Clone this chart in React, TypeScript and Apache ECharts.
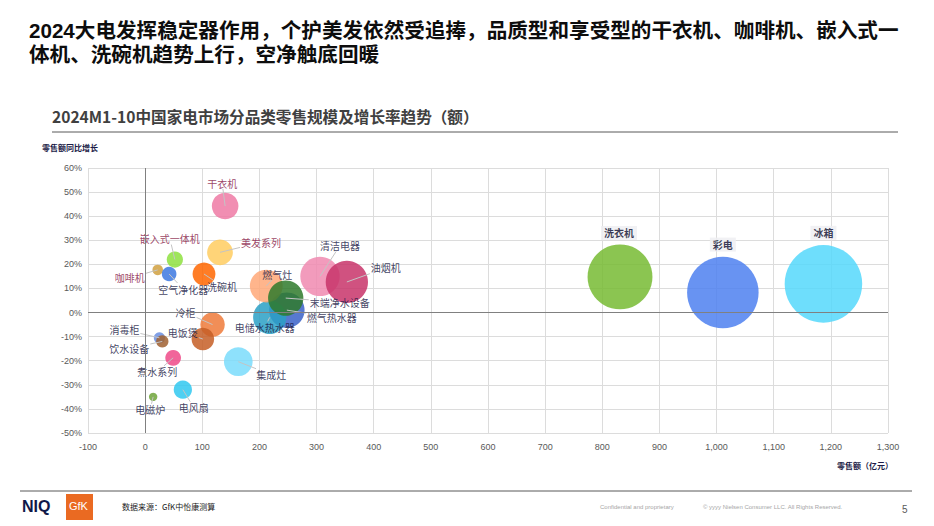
import React, { useEffect, useRef } from "react";
import * as echarts from "echarts";

const categories = [
  "清洁电器", "油烟机", "燃气热水器", "电储水热水器", "燃气灶", "末端净水设备",
  "干衣机", "美发系列", "嵌入式一体机", "咖啡机", "空气净化器", "洗碗机",
  "冷柜", "电饭煲", "消毒柜", "饮水设备", "煮水系列", "集成灶", "电风扇", "电磁炉",
  "洗衣机", "彩电", "冰箱",
];
const retailScale = [
  306, 353, 248, 218, 212, 246,
  140, 131, 52, 22, 42, 103,
  118, 101, 25, 30, 49, 163, 66, 14,
  831, 1011, 1187,
];
const growthRate = [
  15, 12.7, 1, -2, 11, 6,
  44.2, 25, 22, 17.7, 16, 16,
  -5, -11, -10.5, -12, -18.8, -20.4, -32, -35,
  14.8, 8.3, 11.9,
];
const xTicks = { min: -100, max: 1300, interval: 100 };
const yTicks = { min: -50, max: 60, interval: 10 };

const bubbleColors = [
  "#F08AB0", "#C8346A", "#3A62C8", "#2AA0C6", "#FFA878", "#2F7A2C",
  "#EE7AA4", "#FFCC60", "#8EE040", "#D0A040", "#3C78E0", "#FF6600",
  "#EE7A3A", "#C65E26", "#6A8EE0", "#A06030", "#EE4A88", "#7ADCFC", "#30C8F0", "#6EA43A",
  "#77BB33", "#4D80F0", "#55D8FC",
];
const crimsonLabels = ["干衣机", "美发系列", "嵌入式一体机", "咖啡机"];
const bigLabels = ["洗衣机", "彩电", "冰箱"];
const labelOffsets = [
  [20, -31], [39, -14], [45, 7], [-5, 10], [11, -12], [54, 4],
  [-3, -23], [41, -10], [-5, -21], [-28, 8], [14, 15], [18, 12],
  [-27, -12], [-20, -7], [-35, -8], [-33, 7], [-16, 14], [33, 13], [11, 18], [-3, 13],
  [-1, -44], [0, -48], [0, -51],
];

const FONT = "'Noto Sans CJK SC', 'Noto Sans', sans-serif";
const TITLE_FONT = "'Liberation Sans', 'Noto Sans CJK SC', sans-serif";
const LABEL_SIZE = 10;

function leaderEnd(i: number): [number, number] | null {
  const [dx, dy] = labelOffsets[i];
  const w = (categories[i].length * LABEL_SIZE) / 2 + 1;
  const h = LABEL_SIZE / 2 + 1;
  const fx = dx !== 0 ? w / Math.abs(dx) : Infinity;
  const fy = dy !== 0 ? h / Math.abs(dy) : Infinity;
  const t = 1 - Math.min(fx, fy);
  if (t <= 0) return null;
  return [dx * t, dy * t];
}

export default function App() {
  const ref = useRef<HTMLDivElement>(null);
  useEffect(() => {
    if (!ref.current) return;
    const chart = echarts.init(ref.current, undefined, { renderer: "svg" });
    const points = categories.map((name, i) => [retailScale[i], growthRate[i], i]);
    const data = categories.map((name, i) => {
      const big = bigLabels.includes(name);
      const crimson = crimsonLabels.includes(name);
      return {
        name,
        value: [retailScale[i], growthRate[i]],
        symbolSize: 2.25 * Math.sqrt(retailScale[i]),
        itemStyle: { color: bubbleColors[i], opacity: 0.85 },
        label: big
          ? {
              show: true,
              position: "inside",
              formatter: name,
              fontSize: LABEL_SIZE,
              fontWeight: "bold",
              color: "#1A1A3A",
              backgroundColor: "#EEEEF2",
              padding: [2, 3],
              fontFamily: FONT,
            }
          : {
              show: true,
              position: "inside",
              formatter: name,
              fontSize: LABEL_SIZE,
              color: crimson ? "#8A1E4C" : "#1C1C48",
              fontFamily: FONT,
            },
      };
    });
    const option: any = {
      animation: false,
      textStyle: { fontFamily: FONT },
      grid: { left: 88, right: 46, top: 168, bottom: 93 },
      xAxis: {
        type: "value",
        min: xTicks.min,
        max: xTicks.max,
        interval: xTicks.interval,
        axisLine: { show: false },
        axisTick: { show: false },
        splitLine: { show: true, lineStyle: { color: "#DCDCDC", width: 1 } },
        axisLabel: {
          color: "#595959",
          fontSize: 9,
          margin: 9,
          fontFamily: "'Liberation Sans', Arial, sans-serif",
          formatter: (v: number) => v.toLocaleString("en-US"),
        },
      },
      yAxis: {
        type: "value",
        min: yTicks.min,
        max: yTicks.max,
        interval: yTicks.interval,
        axisLine: { show: false },
        axisTick: { show: false },
        splitLine: { show: true, lineStyle: { color: "#DCDCDC", width: 1 } },
        axisLabel: {
          color: "#595959",
          fontSize: 9,
          margin: 6,
          fontFamily: "'Liberation Sans', Arial, sans-serif",
          formatter: (v: number) => v + "%",
        },
      },
      series: [
        {
          type: "scatter",
          z: 1,
          data: [],
          markLine: {
            silent: true,
            symbol: ["none", "none"],
            label: { show: false },
            lineStyle: { color: "#808080", type: "solid", width: 1 },
            data: [{ xAxis: 0 }, { yAxis: 0 }],
          },
        },
        {
          type: "scatter",
          z: 2,
          data,
          labelLayout: (params: any) => {
            const o = labelOffsets[params.dataIndex];
            return { dx: o[0], dy: o[1] };
          },
          emphasis: { disabled: true },
        },
        {
          type: "custom",
          z: 3,
          silent: true,
          data: points,
          renderItem: (params: any, api: any) => {
            const i = api.value(2);
            if (bigLabels.includes(categories[i])) return null;
            const end = leaderEnd(i);
            if (!end) return null;
            const c = api.coord([api.value(0), api.value(1)]);
            return {
              type: "line",
              shape: { x1: c[0], y1: c[1], x2: c[0] + end[0], y2: c[1] + end[1] },
              style: { stroke: "#C4C4C4", lineWidth: 1 },
            };
          },
        },
      ],
      graphic: [
        {
          type: "text",
          left: 29,
          top: 20,
          style: {
            text: "2024大电发挥稳定器作用，个护美发依然受追捧，品质型和享受型的干衣机、咖啡机、嵌入式一",
            fontSize: 20.6,
            fontWeight: "bold",
            fill: "#0D0D0D",
            fontFamily: TITLE_FONT,
          },
        },
        {
          type: "text",
          left: 29,
          top: 44,
          style: {
            text: "体机、洗碗机趋势上行，空净触底回暖",
            fontSize: 20.6,
            fontWeight: "bold",
            fill: "#0D0D0D",
            fontFamily: TITLE_FONT,
          },
        },
        {
          type: "text",
          left: 52,
          top: 108,
          style: {
            text: "2024M1-10中国家电市场分品类零售规模及增长率趋势（额）",
            fontSize: 15.6,
            fontWeight: "bold",
            fill: "#404040",
            fontFamily: FONT,
          },
        },
        {
          type: "line",
          shape: { x1: 52, y1: 132, x2: 898, y2: 132 },
          style: { stroke: "#595959", lineWidth: 1 },
        },
        {
          type: "text",
          left: 42,
          top: 143,
          style: { text: "零售额同比增长", fontSize: 8, fontWeight: "bold", fill: "#1C1C48", fontFamily: FONT },
        },
        {
          type: "text",
          right: 41,
          top: 461,
          style: { text: "零售额（亿元）", fontSize: 8, fontWeight: "bold", fill: "#1C1C48", fontFamily: FONT },
        },
        {
          type: "line",
          shape: { x1: 20, y1: 491, x2: 912, y2: 491 },
          style: { stroke: "#595959", lineWidth: 1 },
        },
        {
          type: "text",
          left: 22,
          top: 498,
          style: { text: "NIQ", fontSize: 16, fontWeight: "bold", fill: "#101848", fontFamily: "'Liberation Sans', Arial, sans-serif" },
        },
        {
          type: "rect",
          shape: { x: 66, y: 494, width: 27, height: 26 },
          style: { fill: "#EA6A22" },
        },
        {
          type: "text",
          left: 69,
          top: 500,
          style: { text: "GfK", fontSize: 11, fill: "#FFFFFF", fontFamily: "'Liberation Sans', Arial, sans-serif" },
        },
        {
          type: "text",
          left: 122,
          top: 502,
          style: { text: "数据来源：GfK中怡康测算", fontSize: 8, fill: "#1C1C1C", fontFamily: FONT },
        },
        {
          type: "text",
          left: 600,
          top: 504,
          style: { text: "Confidential and proprietary", fontSize: 6, fill: "#A6A6A6", fontFamily: "'Liberation Sans', Arial, sans-serif" },
        },
        {
          type: "text",
          left: 703,
          top: 504,
          style: { text: "© yyyy Nielsen Consumer LLC. All Rights Reserved.", fontSize: 6, fill: "#A6A6A6", fontFamily: "'Liberation Sans', Arial, sans-serif" },
        },
        {
          type: "text",
          left: 902,
          top: 504,
          style: { text: "5", fontSize: 10, fill: "#595959", fontFamily: "'Liberation Sans', Arial, sans-serif" },
        },
      ],
    };
    chart.setOption(option);
    return () => chart.dispose();
  }, []);
  return (
    <div
      ref={ref}
      style={{ position: "fixed", left: 0, top: 0, width: 934, height: 526, background: "#FFFFFF" }}
    />
  );
}
